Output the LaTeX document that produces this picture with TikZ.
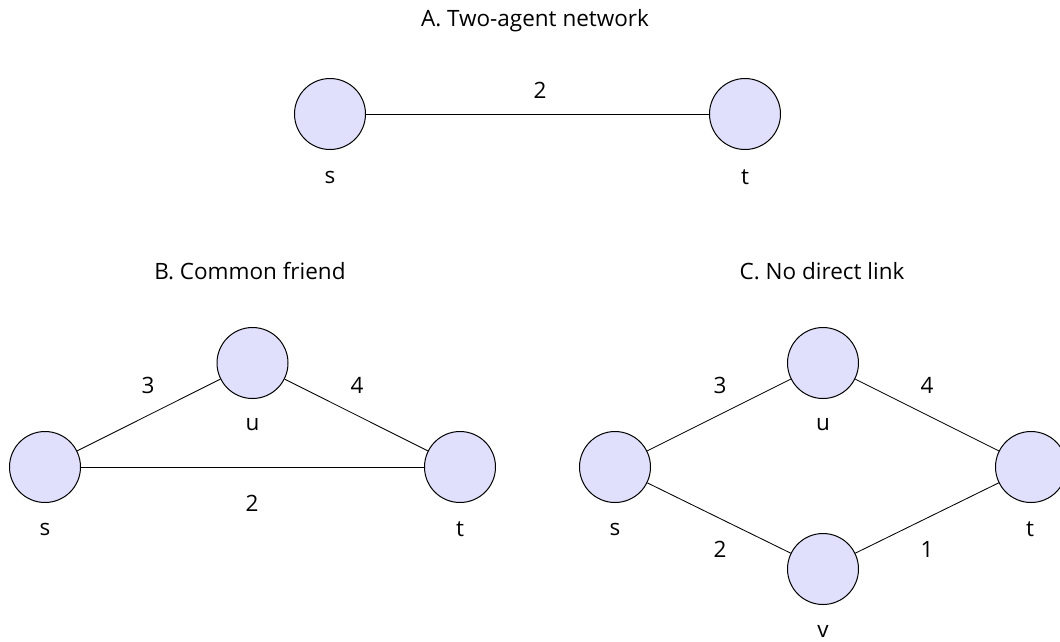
\documentclass[tikz,border=0pt]{standalone}
\usepackage{fontspec}
\setmainfont{Open Sans}
\definecolor{nodefill}{RGB}{224,224,252}
\begin{document}
\begin{tikzpicture}[x=1pt,y=-1pt,
  agent/.style={circle,draw=black,line width=1pt,fill=nodefill,minimum size=71pt,inner sep=0pt},
  edge/.style={draw=black,line width=0.85pt},
  txt/.style={font=\fontsize{22.5}{26}\selectfont,inner sep=0pt,anchor=center}]
\useasboundingbox (0,0) rectangle (1060,641);
% Panel A
\node[txt] (ta) at (535,21) {A. Two-agent network};
\node[agent] (as) at (330,114) {};
\node[agent] (at) at (745,114) {};
\draw[edge] (as) -- (at);
\node[txt] (aw) at (540,90) {2};
\node[txt] (asl) at (330,177) {s};
\node[txt] (atl) at (745,177) {t};
% Panel B
\node[txt] (tb) at (250,271) {B. Common friend};
\node[agent] (bs) at (45,467) {};
\node[agent] (bu) at (252.5,363) {};
\node[agent] (bt) at (460,467) {};
\draw[edge] (bs) -- (bu);
\draw[edge] (bu) -- (bt);
\draw[edge] (bs) -- (bt);
\node[txt] (bw1) at (148,385) {3};
\node[txt] (bw2) at (357,385) {4};
\node[txt] (bw3) at (252,503) {2};
\node[txt] (bsl) at (45,529) {s};
\node[txt] (bul) at (252.5,425) {u};
\node[txt] (btl) at (460,529) {t};
% Panel C
\node[txt] (tc) at (822,271) {C. No direct link};
\node[agent] (cs) at (615,467) {};
\node[agent] (cu) at (823,363) {};
\node[agent] (ct) at (1031,467) {};
\node[agent] (cv) at (823,569) {};
\draw[edge] (cs) -- (cu);
\draw[edge] (cu) -- (ct);
\draw[edge] (cs) -- (cv);
\draw[edge] (cv) -- (ct);
\node[txt] (cw1) at (720,385) {3};
\node[txt] (cw2) at (927,385) {4};
\node[txt] (cw3) at (720,549) {2};
\node[txt] (cw4) at (927,549) {1};
\node[txt] (csl) at (615,529) {s};
\node[txt] (cul) at (823,425) {u};
\node[txt] (ctl) at (1030,529) {t};
\node[txt] (cvl) at (823,631) {v};
\end{tikzpicture}
\end{document}
